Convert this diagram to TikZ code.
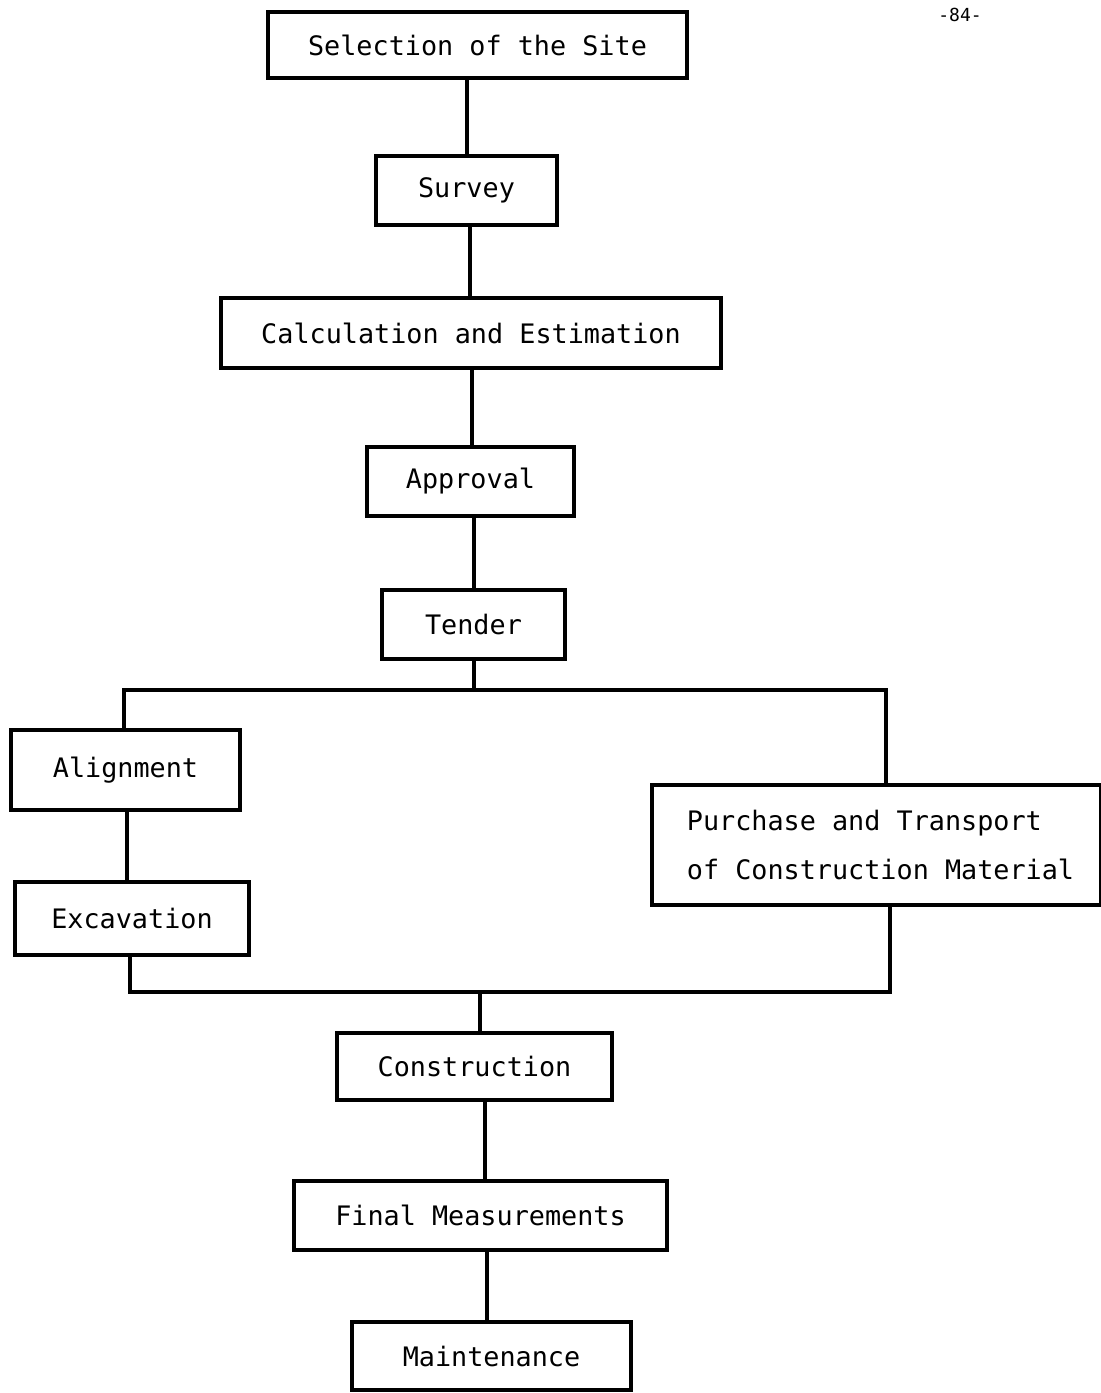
\documentclass[tikz,border=0pt]{standalone}
\usepackage{fontspec}
\newfontfamily\monofont{DejaVu Sans Mono}
\begin{document}
\begin{tikzpicture}[x=0.5pt,y=-0.5pt,
  box/.style={draw, line width=1.7pt, inner sep=0pt,
    font={\monofont\fontsize{13.4}{24.5}\selectfont}},
  link/.style={line width=1.7pt}]
\useasboundingbox (0,0) rectangle (1100,1393);
% page number
\node[font={\monofont\fontsize{9}{11}\selectfont}, anchor=north] (pg) at (960,1) {-84-};
% boxes
\node[box, minimum width={(687-268)*0.5pt}, minimum height={(78-12)*0.5pt}] (site) at (477.5,45) {Selection of the Site};
\node[box, minimum width={(557-376)*0.5pt}, minimum height={(225-156)*0.5pt}] (survey) at (466.5,190.5) {Survey};
\node[box, minimum width={(721-221)*0.5pt}, minimum height={(368-298)*0.5pt}] (calc) at (471,333) {Calculation and Estimation};
\node[box, minimum width={(574-367)*0.5pt}, minimum height={(516-447)*0.5pt}] (appr) at (470.5,481.5) {Approval};
\node[box, minimum width={(565-382)*0.5pt}, minimum height={(659-590)*0.5pt}] (tender) at (473.5,624.5) {Tender};
\node[box, minimum width={(240-11)*0.5pt}, minimum height={(810-730)*0.5pt}] (align) at (125.5,770) {Alignment};
\node[box, minimum width={(249-15)*0.5pt}, minimum height={(955-882)*0.5pt}] (exc) at (132,918.5) {Excavation};
\node[box, minimum width={(1101-652)*0.5pt}, minimum height={(903-783)*0.5pt}, align=left] (purch) at (876.5,845) {\hspace*{4pt}Purchase and Transport\\\hspace*{4pt}of Construction Material};
\node[box, minimum width={(612-337)*0.5pt}, minimum height={(1100-1033)*0.5pt}] (cons) at (474.5,1066.5) {Construction};
\node[box, minimum width={(667-294)*0.5pt}, minimum height={(1250-1181)*0.5pt}] (final) at (480.5,1215.5) {Final Measurements};
\node[box, minimum width={(631-352)*0.5pt}, minimum height={(1390-1322)*0.5pt}] (maint) at (491.5,1356) {Maintenance};
% split / merge points
\coordinate (sp) at (474,690);
\coordinate (spl) at (124,690);
\coordinate (spr) at (886,690);
\coordinate (mg) at (480,992);
\coordinate (mgl) at (130,992);
\coordinate (mgr) at (890,992);
% connectors
\draw[link] (site.south -| 467,0) -- (survey.north -| 467,0);
\draw[link] (survey.south -| 470,0) -- (calc.north -| 470,0);
\draw[link] (calc.south -| 472,0) -- (appr.north -| 472,0);
\draw[link] (appr.south -| 474,0) -- (tender.north -| 474,0);
\draw[link] (tender.south -| sp) -- (sp);
\draw[link, line cap=rect] (spl) -- (spr);
\draw[link] (spl) -- (align.north -| spl);
\draw[link] (spr) -- (purch.north -| spr);
\draw[link] (align.south -| 127,0) -- (exc.north -| 127,0);
\draw[link] (exc.south -| mgl) -- (mgl);
\draw[link] (purch.south -| mgr) -- (mgr);
\draw[link, line cap=rect] (mgl) -- (mgr);
\draw[link] (mg) -- (cons.north -| mg);
\draw[link] (cons.south -| 485,0) -- (final.north -| 485,0);
\draw[link] (final.south -| 487,0) -- (maint.north -| 487,0);
\end{tikzpicture}
\end{document}
